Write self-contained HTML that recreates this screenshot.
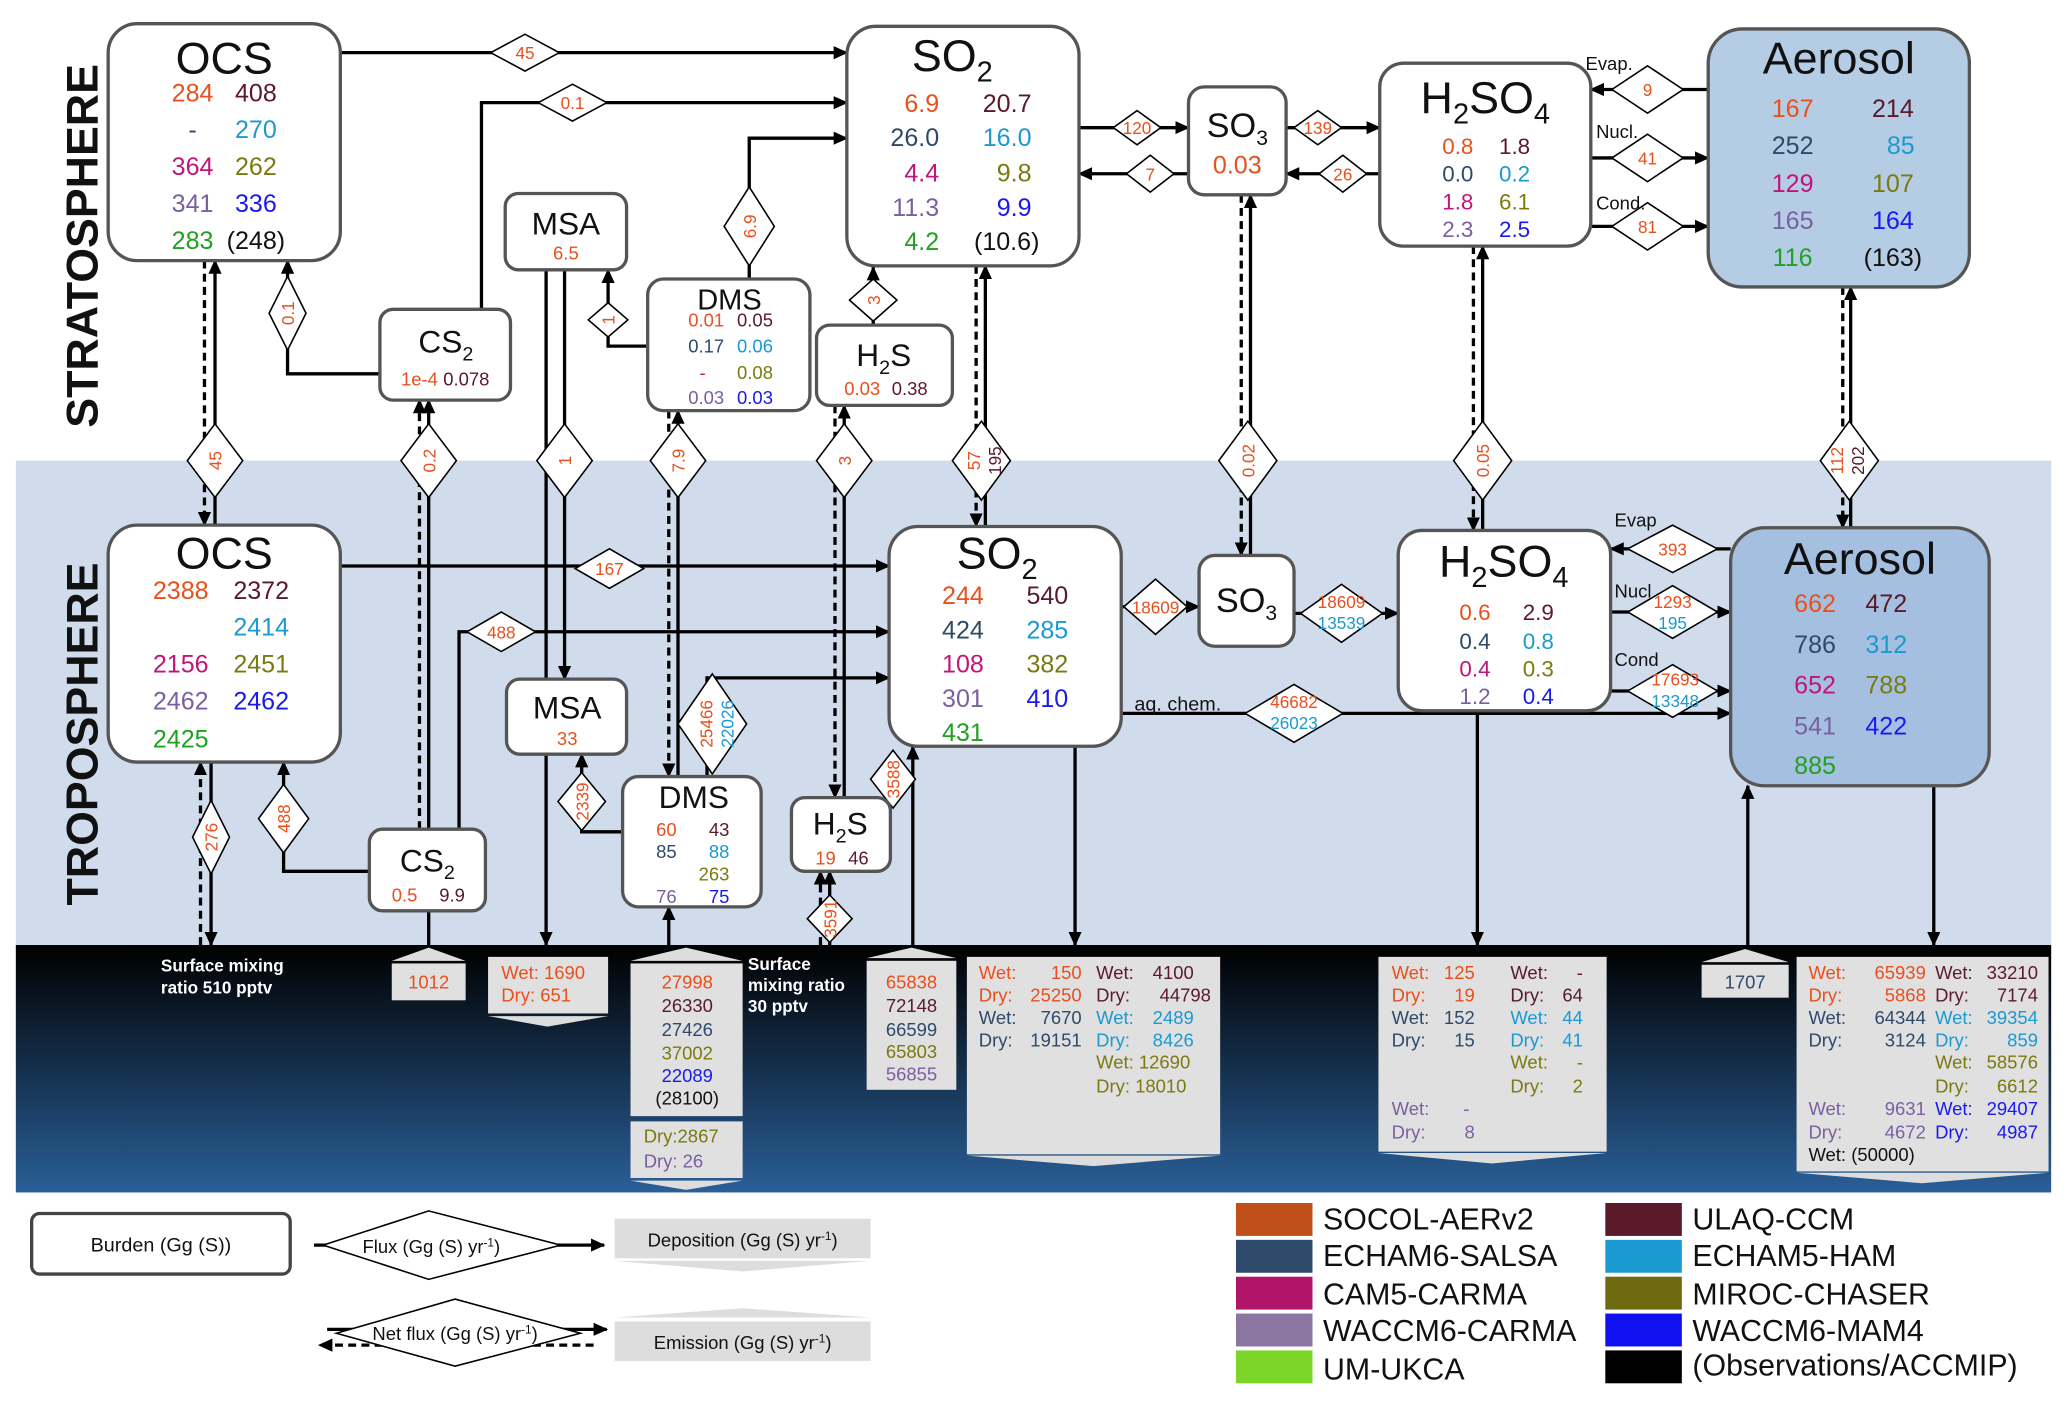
<!DOCTYPE html>
<html><head><meta charset="utf-8"><style>
html,body{margin:0;padding:0;background:#fff}
svg{display:block}
text{font-family:"Liberation Sans","DejaVu Sans",sans-serif}
.t{font-size:34px;fill:#111}
.v{font-size:19px}
.s{font-size:14px}
.d{font-size:13px;fill:#e8501e}
.o{fill:#e8501e}.u{fill:#5a1a2a}.e{fill:#2e4a6a}.h{fill:#1a9ad0}.c{fill:#c0157a}.m{fill:#7a7a10}.w{fill:#7a60a0}.a{fill:#1a1aee}.g{fill:#22a022}.k{fill:#111}
.bx{fill:#fff;stroke:#555;stroke-width:2.5}
.ln{stroke:#000;stroke-width:2.5;fill:none}
.ds{stroke:#000;stroke-width:2.5;fill:none;stroke-dasharray:6,4}
.dm{fill:#fff;stroke:#000;stroke-width:1.2}
.gb{fill:#e0e0e0}
.wl{fill:#fff;font-size:13px;font-weight:bold}
</style></head><body>
<svg width="2067" height="1407" viewBox="0 0 1567 1069" preserveAspectRatio="none" xmlns="http://www.w3.org/2000/svg">
<defs>
<marker id="a" markerWidth="12" markerHeight="12" refX="10" refY="6" orient="auto" markerUnits="userSpaceOnUse"><path d="M0,1 L11,6 L0,11z" fill="#000"/></marker>
<linearGradient id="sg" x1="0" y1="0" x2="0" y2="1"><stop offset="0" stop-color="#000"/><stop offset="1" stop-color="#2a5f98"/></linearGradient>
</defs>
<rect x="12" y="350" width="1543" height="368" fill="#d0dcec"/>
<rect x="12" y="718" width="1543" height="188" fill="url(#sg)"/>
<text transform="translate(74,325) rotate(-90)" font-size="34" font-weight="bold" fill="#111">STRATOSPHERE</text>
<text transform="translate(74,688) rotate(-90)" font-size="34" font-weight="bold" fill="#111">TROPOSPHERE</text>

<!-- ===== lines stratosphere ===== -->
<line class="ln" x1="258" y1="40" x2="642" y2="40" marker-end="url(#a)"/>
<polyline class="ln" points="365,235 365,78 642,78" marker-end="url(#a)"/>
<polyline class="ln" points="288,284 218,284 218,198" marker-end="url(#a)"/>
<polyline class="ln" points="568,212 568,105 642,105" marker-end="url(#a)"/>
<polyline class="ln" points="491,263 461,263 461,205" marker-end="url(#a)"/>
<line class="ln" x1="662" y1="247" x2="662" y2="203" marker-end="url(#a)"/>
<line class="ln" x1="818" y1="97" x2="901" y2="97" marker-end="url(#a)"/>
<line class="ln" x1="901" y1="132" x2="818" y2="132" marker-end="url(#a)"/>
<line class="ln" x1="975" y1="97" x2="1046" y2="97" marker-end="url(#a)"/>
<line class="ln" x1="1046" y1="132" x2="975" y2="132" marker-end="url(#a)"/>
<line class="ln" x1="1295" y1="68" x2="1206" y2="68" marker-end="url(#a)"/>
<line class="ln" x1="1206" y1="120" x2="1295" y2="120" marker-end="url(#a)"/>
<line class="ln" x1="1206" y1="172" x2="1295" y2="172" marker-end="url(#a)"/>
<!-- exchange -->
<line class="ds" x1="155" y1="198" x2="155" y2="399" marker-end="url(#a)"/>
<line class="ln" x1="163" y1="399" x2="163" y2="198" marker-end="url(#a)"/>
<line class="ds" x1="318" y1="630" x2="318" y2="304" marker-end="url(#a)"/>
<line class="ln" x1="325" y1="718" x2="325" y2="304" marker-end="url(#a)"/>
<line class="ln" x1="414" y1="205" x2="414" y2="718" marker-end="url(#a)"/>
<line class="ln" x1="428" y1="205" x2="428" y2="516" marker-end="url(#a)"/>
<line class="ds" x1="507" y1="312" x2="507" y2="590" marker-end="url(#a)"/>
<line class="ln" x1="514" y1="590" x2="514" y2="312" marker-end="url(#a)"/>
<line class="ds" x1="633" y1="308" x2="633" y2="606" marker-end="url(#a)"/>
<line class="ln" x1="640" y1="606" x2="640" y2="308" marker-end="url(#a)"/>
<line class="ds" x1="740" y1="202" x2="740" y2="400" marker-end="url(#a)"/>
<line class="ln" x1="747" y1="400" x2="747" y2="202" marker-end="url(#a)"/>
<line class="ds" x1="941" y1="148" x2="941" y2="422" marker-end="url(#a)"/>
<line class="ln" x1="948" y1="422" x2="948" y2="148" marker-end="url(#a)"/>
<line class="ds" x1="1117" y1="187" x2="1117" y2="403" marker-end="url(#a)"/>
<line class="ln" x1="1124" y1="403" x2="1124" y2="187" marker-end="url(#a)"/>
<line class="ds" x1="1397" y1="218" x2="1397" y2="401" marker-end="url(#a)"/>
<line class="ln" x1="1403" y1="401" x2="1403" y2="218" marker-end="url(#a)"/>
<!-- troposphere -->
<line class="ln" x1="258" y1="430" x2="674" y2="430" marker-end="url(#a)"/>
<polyline class="ln" points="348,630 348,480 674,480" marker-end="url(#a)"/>
<polyline class="ln" points="280,662 215,662 215,579" marker-end="url(#a)"/>
<polyline class="ln" points="536,590 536,515 674,515" marker-end="url(#a)"/>
<polyline class="ln" points="472,632 441,632 441,573" marker-end="url(#a)"/>
<line class="ln" x1="692" y1="718" x2="692" y2="567" marker-end="url(#a)"/>
<line class="ln" x1="850" y1="461" x2="909" y2="461" marker-end="url(#a)"/>
<line class="ln" x1="981" y1="466" x2="1060" y2="466" marker-end="url(#a)"/>
<line class="ln" x1="850" y1="542" x2="1312" y2="542" marker-end="url(#a)"/>
<line class="ln" x1="1312" y1="417" x2="1221" y2="417" marker-end="url(#a)"/>
<line class="ln" x1="1221" y1="465" x2="1312" y2="465" marker-end="url(#a)"/>
<line class="ln" x1="1221" y1="525" x2="1312" y2="525" marker-end="url(#a)"/>
<line class="ds" x1="152" y1="718" x2="152" y2="579" marker-end="url(#a)"/>
<line class="ln" x1="160" y1="579" x2="160" y2="718" marker-end="url(#a)"/>
<line class="ln" x1="507" y1="718" x2="507" y2="689" marker-end="url(#a)"/>
<line class="ds" x1="622" y1="718" x2="622" y2="662" marker-end="url(#a)"/>
<line class="ln" x1="629" y1="718" x2="629" y2="662" marker-end="url(#a)"/>
<line class="ln" x1="815" y1="567" x2="815" y2="718" marker-end="url(#a)"/>
<line class="ln" x1="1120" y1="540" x2="1120" y2="718" marker-end="url(#a)"/>
<line class="ln" x1="1325" y1="718" x2="1325" y2="597" marker-end="url(#a)"/>
<line class="ln" x1="1466" y1="597" x2="1466" y2="718" marker-end="url(#a)"/>

<!-- ===== diamonds ===== -->
<g>
<polygon class="dm" points="372,40 398,26 424,40 398,54"/><text class="d" x="398" y="45" text-anchor="middle">45</text>
<polygon class="dm" points="408,78 434,64 460,78 434,92"/><text class="d" x="434" y="83" text-anchor="middle">0.1</text>
<polygon class="dm" points="218,210 232,238 218,266 204,238"/><text class="d" transform="translate(223,238) rotate(-90)" text-anchor="middle">0.1</text>
<polygon class="dm" points="568,142 587,172 568,202 549,172"/><text class="d" transform="translate(573,172) rotate(-90)" text-anchor="middle">6.9</text>
<polygon class="dm" points="446,243 461,230 476,243 461,256"/><text class="d" transform="translate(466,243) rotate(-90)" text-anchor="middle">1</text>
<polygon class="dm" points="644,228 662,212 680,228 662,244"/><text class="d" transform="translate(667,228) rotate(-90)" text-anchor="middle">3</text>
<polygon class="dm" points="844,97 862,84 880,97 862,110"/><text class="d" x="862" y="102" text-anchor="middle">120</text>
<polygon class="dm" points="854,132 872,118 890,132 872,146"/><text class="d" x="872" y="137" text-anchor="middle">7</text>
<polygon class="dm" points="981,97 999,84 1017,97 999,110"/><text class="d" x="999" y="102" text-anchor="middle">139</text>
<polygon class="dm" points="1000,132 1018,118 1036,132 1018,146"/><text class="d" x="1018" y="137" text-anchor="middle">26</text>
<polygon class="dm" points="1222,68 1249,50 1276,68 1249,86"/><text class="d" x="1249" y="73" text-anchor="middle">9</text>
<polygon class="dm" points="1222,120 1249,102 1276,120 1249,138"/><text class="d" x="1249" y="125" text-anchor="middle">41</text>
<polygon class="dm" points="1222,172 1249,154 1276,172 1249,190"/><text class="d" x="1249" y="177" text-anchor="middle">81</text>
<!-- exchange diamonds -->
<polygon class="dm" points="163,322 184,350 163,378 142,350"/><text class="d" transform="translate(168,350) rotate(-90)" text-anchor="middle">45</text>
<polygon class="dm" points="325,322 346,350 325,378 304,350"/><text class="d" transform="translate(330,350) rotate(-90)" text-anchor="middle">0.2</text>
<polygon class="dm" points="428,322 449,350 428,378 407,350"/><text class="d" transform="translate(433,350) rotate(-90)" text-anchor="middle">1</text>
<polygon class="dm" points="514,322 535,350 514,378 493,350"/><text class="d" transform="translate(519,350) rotate(-90)" text-anchor="middle">7.9</text>
<polygon class="dm" points="640,322 661,350 640,378 619,350"/><text class="d" transform="translate(645,350) rotate(-90)" text-anchor="middle">3</text>
<polygon class="dm" points="744,320 766,350 744,380 722,350"/><text class="d" transform="translate(743,350) rotate(-90)" text-anchor="middle">57</text><text class="d u" transform="translate(759,350) rotate(-90)" text-anchor="middle">195</text>
<polygon class="dm" points="946,320 968,350 946,380 924,350"/><text class="d" transform="translate(951,350) rotate(-90)" text-anchor="middle">0.02</text>
<polygon class="dm" points="1124,320 1146,350 1124,380 1102,350"/><text class="d" transform="translate(1129,350) rotate(-90)" text-anchor="middle">0.05</text>
<polygon class="dm" points="1402,320 1424,350 1402,380 1380,350"/><text class="d" transform="translate(1397,350) rotate(-90)" text-anchor="middle">112</text><text class="d u" transform="translate(1413,350) rotate(-90)" text-anchor="middle">202</text>
<!-- troposphere diamonds -->
<polygon class="dm" points="436,432 462,417 488,432 462,447"/><text class="d" x="462" y="437" text-anchor="middle">167</text>
<polygon class="dm" points="354,480 380,465 406,480 380,495"/><text class="d" x="380" y="485" text-anchor="middle">488</text>
<polygon class="dm" points="215,596 234,622 215,648 196,622"/><text class="d" transform="translate(220,622) rotate(-90)" text-anchor="middle">488</text>
<polygon class="dm" points="540,512 566,550 540,588 514,550"/><text class="d" transform="translate(540,550) rotate(-90)" text-anchor="middle">25466</text><text class="d h" transform="translate(556,550) rotate(-90)" text-anchor="middle">22026</text>
<polygon class="dm" points="441,587 459,609 441,631 423,609"/><text class="d" transform="translate(446,609) rotate(-90)" text-anchor="middle">2339</text>
<polygon class="dm" points="677,570 694,592 677,614 660,592"/><text class="d" transform="translate(682,592) rotate(-90)" text-anchor="middle">3588</text>
<polygon class="dm" points="629,680 646,698 629,716 612,698"/><text class="d" transform="translate(634,698) rotate(-90)" text-anchor="middle">3591</text>
<polygon class="dm" points="852,461 876,440 900,461 876,482"/><text class="d" x="876" y="466" text-anchor="middle">18609</text>
<polygon class="dm" points="986,466 1017,444 1048,466 1017,488"/><text class="d" x="1017" y="462" text-anchor="middle">18609</text><text class="d h" x="1017" y="478" text-anchor="middle">13539</text>
<polygon class="dm" points="944,542 981,520 1018,542 981,564"/><text class="d" x="981" y="538" text-anchor="middle">46682</text><text class="d h" x="981" y="554" text-anchor="middle">26023</text>
<polygon class="dm" points="1234,417 1268,399 1302,417 1268,435"/><text class="d" x="1268" y="422" text-anchor="middle">393</text>
<polygon class="dm" points="1234,465 1268,445 1302,465 1268,485"/><text class="d" x="1268" y="462" text-anchor="middle">1293</text><text class="d h" x="1268" y="478" text-anchor="middle">195</text>
<polygon class="dm" points="1234,525 1268,505 1302,525 1268,545"/><text class="d" x="1270" y="521" text-anchor="middle">17693</text><text class="d h" x="1270" y="537" text-anchor="middle">13348</text>
<polygon class="dm" points="146,636 160,608 174,636 160,664"/><text class="d" transform="translate(165,636) rotate(-90)" text-anchor="middle">276</text>
</g>
<text x="1202" y="53" font-size="14" fill="#111">Evap.</text>
<text x="1210" y="105" font-size="14" fill="#111">Nucl.</text>
<text x="1210" y="159" font-size="14" fill="#111">Cond.</text>
<text x="1224" y="400" font-size="14" fill="#111">Evap</text>
<text x="1224" y="454" font-size="14" fill="#111">Nucl</text>
<text x="1224" y="506" font-size="14" fill="#111">Cond</text>
<text x="860" y="540" font-size="15" fill="#111">aq. chem.</text>

<!-- ===== boxes stratosphere ===== -->
<rect class="bx" x="82" y="18" width="176" height="180" rx="22"/>
<text class="t" x="170" y="56" text-anchor="middle">OCS</text>
<g class="v"><text class="o" x="146" y="77" text-anchor="middle">284</text><text class="u" x="194" y="77" text-anchor="middle">408</text>
<text class="e" x="146" y="105" text-anchor="middle">-</text><text class="h" x="194" y="105" text-anchor="middle">270</text>
<text class="c" x="146" y="133" text-anchor="middle">364</text><text class="m" x="194" y="133" text-anchor="middle">262</text>
<text class="w" x="146" y="161" text-anchor="middle">341</text><text class="a" x="194" y="161" text-anchor="middle">336</text>
<text class="g" x="146" y="189" text-anchor="middle">283</text><text class="k" x="194" y="189" text-anchor="middle">(248)</text></g>

<rect class="bx" x="642" y="20" width="176" height="182" rx="22"/>
<text class="t" x="722" y="54" text-anchor="middle">SO<tspan font-size="22" dy="8">2</tspan></text>
<g class="v"><text class="o" x="712" y="85" text-anchor="end">6.9</text><text class="u" x="782" y="85" text-anchor="end">20.7</text>
<text class="e" x="712" y="111" text-anchor="end">26.0</text><text class="h" x="782" y="111" text-anchor="end">16.0</text>
<text class="c" x="712" y="138" text-anchor="end">4.4</text><text class="m" x="782" y="138" text-anchor="end">9.8</text>
<text class="w" x="712" y="164" text-anchor="end">11.3</text><text class="a" x="782" y="164" text-anchor="end">9.9</text>
<text class="g" x="712" y="190" text-anchor="end">4.2</text><text class="k" x="788" y="190" text-anchor="end">(10.6)</text></g>

<rect class="bx" x="901" y="66" width="74" height="82" rx="12"/>
<text x="938" y="104" text-anchor="middle" font-size="26" fill="#111">SO<tspan font-size="16" dy="6">3</tspan></text>
<text class="v o" x="938" y="132" text-anchor="middle" font-size="17">0.03</text>

<rect class="bx" x="1046" y="48" width="160" height="139" rx="18"/>
<text x="1126" y="86" text-anchor="middle" font-size="34" fill="#111">H<tspan font-size="22" dy="8">2</tspan><tspan dy="-8">SO</tspan><tspan font-size="22" dy="8">4</tspan></text>
<g font-size="17"><text class="o" x="1117" y="117" text-anchor="end">0.8</text><text class="u" x="1160" y="117" text-anchor="end">1.8</text>
<text class="e" x="1117" y="138" text-anchor="end">0.0</text><text class="h" x="1160" y="138" text-anchor="end">0.2</text>
<text class="c" x="1117" y="159" text-anchor="end">1.8</text><text class="m" x="1160" y="159" text-anchor="end">6.1</text>
<text class="w" x="1117" y="180" text-anchor="end">2.3</text><text class="a" x="1160" y="180" text-anchor="end">2.5</text></g>

<rect x="1295" y="22" width="198" height="196" rx="26" fill="#b4cce4" stroke="#555" stroke-width="2.5"/>
<text class="t" x="1394" y="56" text-anchor="middle" font-size="36">Aerosol</text>
<g class="v" font-size="20"><text class="o" x="1359" y="89" text-anchor="middle">167</text><text class="u" x="1435" y="89" text-anchor="middle">214</text>
<text class="e" x="1359" y="117" text-anchor="middle">252</text><text class="h" x="1441" y="117" text-anchor="middle">85</text>
<text class="c" x="1359" y="146" text-anchor="middle">129</text><text class="m" x="1435" y="146" text-anchor="middle">107</text>
<text class="w" x="1359" y="174" text-anchor="middle">165</text><text class="a" x="1435" y="174" text-anchor="middle">164</text>
<text class="g" x="1359" y="202" text-anchor="middle">116</text><text class="k" x="1435" y="202" text-anchor="middle">(163)</text></g>

<rect class="bx" x="383" y="147" width="92" height="58" rx="10"/>
<text x="429" y="178" text-anchor="middle" font-size="24" fill="#111">MSA</text>
<text class="s o" x="429" y="197" text-anchor="middle">6.5</text>

<rect class="bx" x="288" y="235" width="99" height="69" rx="10"/>
<text x="338" y="268" text-anchor="middle" font-size="24" fill="#111">CS<tspan font-size="15" dy="6">2</tspan></text>
<text class="s o" x="304" y="293">1e-4</text><text class="s u" x="336" y="293">0.078</text>

<rect class="bx" x="491" y="212" width="123" height="100" rx="12"/>
<text x="553" y="235" text-anchor="middle" font-size="22" fill="#111">DMS</text>
<g class="s"><text class="o" x="549" y="248" text-anchor="end">0.01</text><text class="u" x="586" y="248" text-anchor="end">0.05</text>
<text class="e" x="549" y="268" text-anchor="end">0.17</text><text class="h" x="586" y="268" text-anchor="end">0.06</text>
<text class="c" x="535" y="288" text-anchor="end">-</text><text class="m" x="586" y="288" text-anchor="end">0.08</text>
<text class="w" x="549" y="307" text-anchor="end">0.03</text><text class="a" x="586" y="307" text-anchor="end">0.03</text></g>

<rect class="bx" x="619" y="247" width="103" height="61" rx="10"/>
<text x="670" y="278" text-anchor="middle" font-size="24" fill="#111">H<tspan font-size="15" dy="6">2</tspan><tspan dy="-6">S</tspan></text>
<text class="s o" x="640" y="300">0.03</text><text class="s u" x="676" y="300">0.38</text>

<!-- ===== boxes troposphere ===== -->
<rect class="bx" x="82" y="399" width="176" height="180" rx="22"/>
<text class="t" x="170" y="432" text-anchor="middle">OCS</text>
<g class="v"><text class="o" x="137" y="455" text-anchor="middle">2388</text><text class="u" x="198" y="455" text-anchor="middle">2372</text>
<text class="h" x="198" y="483" text-anchor="middle">2414</text>
<text class="c" x="137" y="511" text-anchor="middle">2156</text><text class="m" x="198" y="511" text-anchor="middle">2451</text>
<text class="w" x="137" y="539" text-anchor="middle">2462</text><text class="a" x="198" y="539" text-anchor="middle">2462</text>
<text class="g" x="137" y="568" text-anchor="middle">2425</text></g>

<rect class="bx" x="674" y="400" width="176" height="167" rx="22"/>
<text class="t" x="756" y="432" text-anchor="middle">SO<tspan font-size="22" dy="8">2</tspan></text>
<g class="v"><text class="o" x="730" y="459" text-anchor="middle">244</text><text class="u" x="794" y="459" text-anchor="middle">540</text>
<text class="e" x="730" y="485" text-anchor="middle">424</text><text class="h" x="794" y="485" text-anchor="middle">285</text>
<text class="c" x="730" y="511" text-anchor="middle">108</text><text class="m" x="794" y="511" text-anchor="middle">382</text>
<text class="w" x="730" y="537" text-anchor="middle">301</text><text class="a" x="794" y="537" text-anchor="middle">410</text>
<text class="g" x="730" y="563" text-anchor="middle">431</text></g>

<rect class="bx" x="909" y="422" width="72" height="69" rx="12"/>
<text x="945" y="465" text-anchor="middle" font-size="26" fill="#111">SO<tspan font-size="16" dy="6">3</tspan></text>

<rect class="bx" x="1060" y="403" width="161" height="137" rx="18"/>
<text x="1140" y="438" text-anchor="middle" font-size="34" fill="#111">H<tspan font-size="22" dy="8">2</tspan><tspan dy="-8">SO</tspan><tspan font-size="22" dy="8">4</tspan></text>
<g font-size="17"><text class="o" x="1130" y="471" text-anchor="end">0.6</text><text class="u" x="1178" y="471" text-anchor="end">2.9</text>
<text class="e" x="1130" y="493" text-anchor="end">0.4</text><text class="h" x="1178" y="493" text-anchor="end">0.8</text>
<text class="c" x="1130" y="514" text-anchor="end">0.4</text><text class="m" x="1178" y="514" text-anchor="end">0.3</text>
<text class="w" x="1130" y="535" text-anchor="end">1.2</text><text class="a" x="1178" y="535" text-anchor="end">0.4</text></g>

<rect x="1312" y="401" width="196" height="196" rx="26" fill="#a4bfdf" stroke="#555" stroke-width="2.5"/>
<text class="t" x="1410" y="436" text-anchor="middle" font-size="36">Aerosol</text>
<g class="v" font-size="22"><text class="o" x="1376" y="465" text-anchor="middle">662</text><text class="u" x="1430" y="465" text-anchor="middle">472</text>
<text class="e" x="1376" y="496" text-anchor="middle">786</text><text class="h" x="1430" y="496" text-anchor="middle">312</text>
<text class="c" x="1376" y="527" text-anchor="middle">652</text><text class="m" x="1430" y="527" text-anchor="middle">788</text>
<text class="w" x="1376" y="558" text-anchor="middle">541</text><text class="a" x="1430" y="558" text-anchor="middle">422</text>
<text class="g" x="1376" y="588" text-anchor="middle">885</text></g>

<rect class="bx" x="384" y="516" width="91" height="57" rx="10"/>
<text x="430" y="546" text-anchor="middle" font-size="24" fill="#111">MSA</text>
<text class="s o" x="430" y="566" text-anchor="middle">33</text>

<rect class="bx" x="280" y="630" width="88" height="62" rx="10"/>
<text x="324" y="662" text-anchor="middle" font-size="24" fill="#111">CS<tspan font-size="15" dy="6">2</tspan></text>
<text class="s o" x="297" y="685">0.5</text><text class="s u" x="333" y="685">9.9</text>

<rect class="bx" x="472" y="590" width="105" height="99" rx="12"/>
<text x="526" y="614" text-anchor="middle" font-size="24" fill="#111">DMS</text>
<g class="s"><text class="o" x="513" y="635" text-anchor="end">60</text><text class="u" x="553" y="635" text-anchor="end">43</text>
<text class="e" x="513" y="652" text-anchor="end">85</text><text class="h" x="553" y="652" text-anchor="end">88</text>
<text class="m" x="553" y="669" text-anchor="end">263</text>
<text class="w" x="513" y="686" text-anchor="end">76</text><text class="a" x="553" y="686" text-anchor="end">75</text></g>

<rect class="bx" x="600" y="606" width="75" height="56" rx="10"/>
<text x="637" y="634" text-anchor="middle" font-size="24" fill="#111">H<tspan font-size="15" dy="6">2</tspan><tspan dy="-6">S</tspan></text>
<text class="s o" x="618" y="657">19</text><text class="s u" x="643" y="657">46</text>

<!-- ===== surface ===== -->
<text class="wl" x="122" y="738">Surface mixing</text><text class="wl" x="122" y="755">ratio 510 pptv</text>
<text class="wl" x="567" y="737">Surface</text><text class="wl" x="567" y="753">mixing ratio</text><text class="wl" x="567" y="769">30 pptv</text>

<polygon points="297,730 325,720 353,730" fill="#ddd"/><rect class="gb" x="297" y="732" width="56" height="28"/>
<text class="s o" x="325" y="751" text-anchor="middle">1012</text>

<rect class="gb" x="370" y="727" width="91" height="43"/><polygon points="370,772 415,780 461,772" fill="#ddd"/>
<text class="s o" x="380" y="744">Wet: 1690</text><text class="s o" x="380" y="761">Dry: 651</text>

<polygon points="478,730 520,720 563,730" fill="#ddd"/><rect class="gb" x="478" y="732" width="85" height="116"/>
<g class="s" text-anchor="middle"><text class="o" x="521" y="751">27998</text><text class="u" x="521" y="769">26330</text><text class="e" x="521" y="787">27426</text><text class="m" x="521" y="805">37002</text><text class="a" x="521" y="822">22089</text><text class="k" x="521" y="839">(28100)</text></g>
<rect class="gb" x="478" y="852" width="85" height="43"/><polygon points="478,897 520,904 563,897" fill="#ddd"/>
<text class="s m" x="488" y="868">Dry:2867</text><text class="s w" x="488" y="887">Dry:   26</text>

<polygon points="657,728 691,720 725,728" fill="#ddd"/><rect class="gb" x="657" y="730" width="68" height="98"/>
<g class="s" text-anchor="middle"><text class="o" x="691" y="751">65838</text><text class="u" x="691" y="769">72148</text><text class="e" x="691" y="787">66599</text><text class="m" x="691" y="804">65803</text><text class="w" x="691" y="821">56855</text></g>

<rect class="gb" x="733" y="727" width="192" height="150"/><polygon points="733,878 829,886 925,878" fill="#ddd"/>
<g class="s"><text class="o" x="742" y="744">Wet:</text><text class="o" x="820" y="744" text-anchor="end">150</text>
<text class="o" x="742" y="761">Dry:</text><text class="o" x="820" y="761" text-anchor="end">25250</text>
<text class="e" x="742" y="778">Wet:</text><text class="e" x="820" y="778" text-anchor="end">7670</text>
<text class="e" x="742" y="795">Dry:</text><text class="e" x="820" y="795" text-anchor="end">19151</text>
<text class="u" x="831" y="744">Wet:</text><text class="u" x="905" y="744" text-anchor="end">4100</text>
<text class="u" x="831" y="761">Dry:</text><text class="u" x="918" y="761" text-anchor="end">44798</text>
<text class="h" x="831" y="778">Wet:</text><text class="h" x="905" y="778" text-anchor="end">2489</text>
<text class="h" x="831" y="795">Dry:</text><text class="h" x="905" y="795" text-anchor="end">8426</text>
<text class="m" x="831" y="812">Wet: 12690</text><text class="m" x="831" y="830">Dry: 18010</text></g>

<rect class="gb" x="1045" y="727" width="173" height="148"/><polygon points="1045,876 1131,884 1218,876" fill="#ddd"/>
<g class="s"><text class="o" x="1055" y="744">Wet:</text><text class="o" x="1118" y="744" text-anchor="end">125</text>
<text class="o" x="1055" y="761">Dry:</text><text class="o" x="1118" y="761" text-anchor="end">19</text>
<text class="e" x="1055" y="778">Wet:</text><text class="e" x="1118" y="778" text-anchor="end">152</text>
<text class="e" x="1055" y="795">Dry:</text><text class="e" x="1118" y="795" text-anchor="end">15</text>
<text class="w" x="1055" y="847">Wet:</text><text class="w" x="1114" y="847" text-anchor="end">-</text>
<text class="w" x="1055" y="865">Dry:</text><text class="w" x="1118" y="865" text-anchor="end">8</text>
<text class="u" x="1145" y="744">Wet:</text><text class="u" x="1200" y="744" text-anchor="end">-</text>
<text class="u" x="1145" y="761">Dry:</text><text class="u" x="1200" y="761" text-anchor="end">64</text>
<text class="h" x="1145" y="778">Wet:</text><text class="h" x="1200" y="778" text-anchor="end">44</text>
<text class="h" x="1145" y="795">Dry:</text><text class="h" x="1200" y="795" text-anchor="end">41</text>
<text class="m" x="1145" y="812">Wet:</text><text class="m" x="1200" y="812" text-anchor="end">-</text>
<text class="m" x="1145" y="830">Dry:</text><text class="m" x="1200" y="830" text-anchor="end">2</text></g>

<polygon points="1290,731 1323,721 1356,731" fill="#ddd"/><rect class="gb" x="1290" y="733" width="66" height="25"/>
<text class="s e" x="1323" y="751" text-anchor="middle">1707</text>

<rect class="gb" x="1362" y="727" width="191" height="163"/><polygon points="1362,891 1457,899 1553,891" fill="#ddd"/>
<g class="s"><text class="o" x="1371" y="744">Wet:</text><text class="o" x="1460" y="744" text-anchor="end">65939</text>
<text class="o" x="1371" y="761">Dry:</text><text class="o" x="1460" y="761" text-anchor="end">5868</text>
<text class="e" x="1371" y="778">Wet:</text><text class="e" x="1460" y="778" text-anchor="end">64344</text>
<text class="e" x="1371" y="795">Dry:</text><text class="e" x="1460" y="795" text-anchor="end">3124</text>
<text class="w" x="1371" y="847">Wet:</text><text class="w" x="1460" y="847" text-anchor="end">9631</text>
<text class="w" x="1371" y="865">Dry:</text><text class="w" x="1460" y="865" text-anchor="end">4672</text>
<text class="k" x="1371" y="882">Wet:  (50000)</text>
<text class="u" x="1467" y="744">Wet:</text><text class="u" x="1545" y="744" text-anchor="end">33210</text>
<text class="u" x="1467" y="761">Dry:</text><text class="u" x="1545" y="761" text-anchor="end">7174</text>
<text class="h" x="1467" y="778">Wet:</text><text class="h" x="1545" y="778" text-anchor="end">39354</text>
<text class="h" x="1467" y="795">Dry:</text><text class="h" x="1545" y="795" text-anchor="end">859</text>
<text class="m" x="1467" y="812">Wet:</text><text class="m" x="1545" y="812" text-anchor="end">58576</text>
<text class="m" x="1467" y="830">Dry:</text><text class="m" x="1545" y="830" text-anchor="end">6612</text>
<text class="a" x="1467" y="847">Wet:</text><text class="a" x="1545" y="847" text-anchor="end">29407</text>
<text class="a" x="1467" y="865">Dry:</text><text class="a" x="1545" y="865" text-anchor="end">4987</text></g>

<!-- ===== legend ===== -->
<rect x="24" y="922" width="196" height="46" rx="6" fill="#fff" stroke="#444" stroke-width="2.5"/>
<text x="122" y="951" text-anchor="middle" font-size="15" fill="#111">Burden (Gg (S))</text>
<line class="ln" x1="238" y1="946" x2="458" y2="946" marker-end="url(#a)"/>
<polygon class="dm" points="245,946 325,920 425,946 325,972"/>
<text x="327" y="952" text-anchor="middle" font-size="14" fill="#111">Flux (Gg (S) yr<tspan font-size="9" dy="-5">-1</tspan><tspan dy="5">)</tspan></text>
<polygon points="466,926 660,926 660,956 466,956" fill="#ddd"/><polygon points="466,958 563,966 660,958" fill="#ddd"/>
<text x="563" y="947" text-anchor="middle" font-size="14" fill="#111">Deposition (Gg (S) yr<tspan font-size="9" dy="-5">-1</tspan><tspan dy="5">)</tspan></text>
<line class="ln" x1="248" y1="1010" x2="460" y2="1010" marker-end="url(#a)"/>
<line class="ds" x1="450" y1="1022" x2="242" y2="1022" marker-end="url(#a)"/>
<polygon class="dm" points="255,1013 345,987 440,1013 345,1038"/>
<text x="345" y="1018" text-anchor="middle" font-size="14" fill="#111">Net flux (Gg (S) yr<tspan font-size="9" dy="-5">-1</tspan><tspan dy="5">)</tspan></text>
<polygon points="466,1001 563,994 660,1001" fill="#ddd"/><rect x="466" y="1004" width="194" height="30" fill="#ddd"/>
<text x="563" y="1025" text-anchor="middle" font-size="14" fill="#111">Emission (Gg (S) yr<tspan font-size="9" dy="-5">-1</tspan><tspan dy="5">)</tspan></text>

<g font-size="23" fill="#111">
<rect x="937" y="914" width="58" height="25" fill="#c0501a"/><text x="1003" y="934">SOCOL-AERv2</text>
<rect x="937" y="942" width="58" height="25" fill="#2e4a6a"/><text x="1003" y="962">ECHAM6-SALSA</text>
<rect x="937" y="970" width="58" height="25" fill="#b0156a"/><text x="1003" y="991">CAM5-CARMA</text>
<rect x="937" y="998" width="58" height="25" fill="#8a76a0"/><text x="1003" y="1019">WACCM6-CARMA</text>
<rect x="937" y="1026" width="58" height="25" fill="#7cd62a"/><text x="1003" y="1048">UM-UKCA</text>
<rect x="1217" y="914" width="58" height="25" fill="#5a1a2a"/><text x="1283" y="934">ULAQ-CCM</text>
<rect x="1217" y="942" width="58" height="25" fill="#1a9ad0"/><text x="1283" y="962">ECHAM5-HAM</text>
<rect x="1217" y="970" width="58" height="25" fill="#6e6a10"/><text x="1283" y="991">MIROC-CHASER</text>
<rect x="1217" y="998" width="58" height="25" fill="#1010f0"/><text x="1283" y="1019">WACCM6-MAM4</text>
<rect x="1217" y="1026" width="58" height="25" fill="#000"/><text x="1283" y="1045">(Observations/ACCMIP)</text>
</g>
</svg>
</body></html>
